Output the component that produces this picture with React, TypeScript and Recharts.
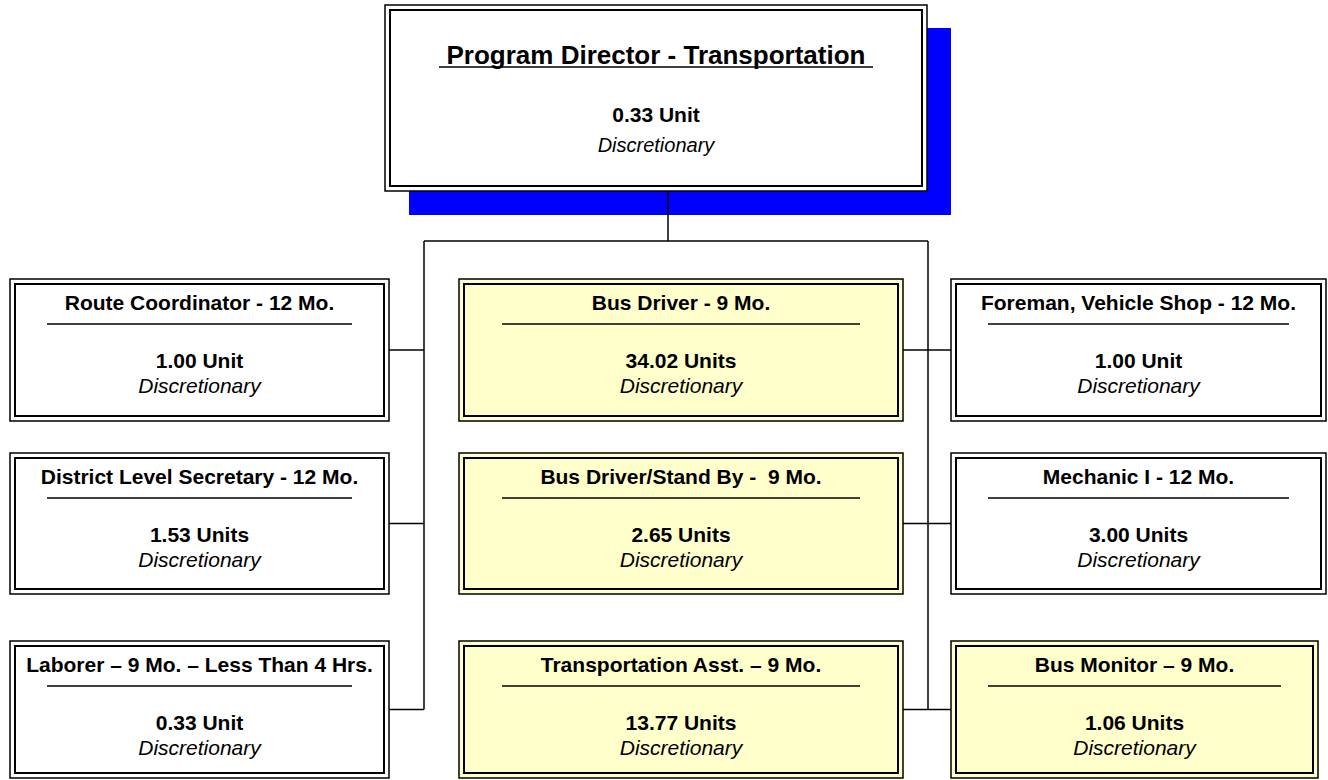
import React from "react";
import {
  ScatterChart,
  Scatter,
  XAxis,
  YAxis,
  ReferenceArea,
  ReferenceLine,
} from "recharts";

// positions in the org chart, top first, then left / middle / right columns
const titles = [
  "Program Director - Transportation",
  "Route Coordinator - 12 Mo.",
  "District Level Secretary - 12 Mo.",
  "Laborer \u2013 9 Mo. \u2013 Less Than 4 Hrs.",
  "Bus Driver - 9 Mo.",
  "Bus Driver/Stand By -  9 Mo.",
  "Transportation Asst. \u2013 9 Mo.",
  "Foreman, Vehicle Shop - 12 Mo.",
  "Mechanic I - 12 Mo.",
  "Bus Monitor \u2013 9 Mo.",
];
const unitCounts = [0.33, 1.0, 1.53, 0.33, 34.02, 2.65, 13.77, 1.0, 3.0, 1.06];
const fundingTypes = [
  "Discretionary",
  "Discretionary",
  "Discretionary",
  "Discretionary",
  "Discretionary",
  "Discretionary",
  "Discretionary",
  "Discretionary",
  "Discretionary",
  "Discretionary",
];
const nodeColumns = ["top", "left", "left", "left", "mid", "mid", "mid", "right", "right", "right"];
const nodeRows = [0, 1, 2, 3, 1, 2, 3, 1, 2, 3];
const nineMonthShaded = [false, false, false, false, true, true, true, false, false, true];

const W = 1328;
const H = 780;
const FONT = "'Liberation Sans', Arial, Helvetica, sans-serif";

// layout (pixel units, the axes map 1:1)
const COLS: Record<string, number[]> = {
  top: [385, 927],
  left: [10, 389],
  mid: [459, 903],
  right: [951, 1326],
};
const ROWS = [
  [5, 191],
  [279, 421],
  [453, 594],
  [641, 778],
];
const RIGHT_EDGE_OVERRIDE: Record<number, number> = { 9: 1318 };
const UNDERLINE_INSET: Record<string, number> = { top: 54, left: 37, mid: 43, right: 37 };
const SHADOW = 24;
const INSET = 5;
const BUS_LEFT = 424;
const BUS_RIGHT = 928;
const BUS_Y = 241;
const TRUNK_X = 668;

const unitLabel = (v: number) => `${v.toFixed(2)} ${v <= 1 ? "Unit" : "Units"}`;

const nodes = titles.map((title, i) => {
  const col = nodeColumns[i];
  const x1 = COLS[col][0];
  const x2 = RIGHT_EDGE_OVERRIDE[i] ?? COLS[col][1];
  const [y1, y2] = ROWS[nodeRows[i]];
  return {
    title,
    units: unitLabel(unitCounts[i]),
    funding: fundingTypes[i],
    col,
    x1,
    x2,
    y1,
    y2,
    x: (x1 + x2) / 2,
    y: y1,
    fill: nineMonthShaded[i] ? "#FFFFCC" : "#FFFFFF",
  };
});

const top = nodes[0];

// connector segments
const connectors: { x: number; y: number }[][] = [
  [
    { x: TRUNK_X, y: top.y2 },
    { x: TRUNK_X, y: BUS_Y },
  ],
  [
    { x: BUS_LEFT, y: BUS_Y },
    { x: BUS_RIGHT, y: BUS_Y },
  ],
];
const leftLast = nodes.filter((n) => n.col === "left").slice(-1)[0];
const rightLast = nodes.filter((n) => n.col === "right").slice(-1)[0];
connectors.push([
  { x: BUS_LEFT, y: BUS_Y },
  { x: BUS_LEFT, y: (leftLast.y1 + leftLast.y2) / 2 },
]);
connectors.push([
  { x: BUS_RIGHT, y: BUS_Y },
  { x: BUS_RIGHT, y: (rightLast.y1 + rightLast.y2) / 2 },
]);
nodes.forEach((n) => {
  const cy = (n.y1 + n.y2) / 2;
  if (n.col === "left") connectors.push([{ x: n.x2, y: cy }, { x: BUS_LEFT, y: cy }]);
  if (n.col === "mid") connectors.push([{ x: n.x2, y: cy }, { x: BUS_RIGHT, y: cy }]);
  if (n.col === "right") connectors.push([{ x: BUS_RIGHT, y: cy }, { x: n.x1, y: cy }]);
});

const NodeText = (props: any) => {
  const { cx, cy, payload } = props;
  const isTop = payload.col === "top";
  const o = isTop
    ? { title: 59, units: 117, fund: 147, ts: 26, us: 21, fs: 20 }
    : { title: 31, units: 89, fund: 114, ts: 21, us: 21, fs: 21 };
  return (
    <g fontFamily={FONT} fill="#000" textAnchor="middle">
      <text x={cx} y={cy + o.title} fontSize={o.ts} fontWeight="bold" style={{ whiteSpace: "pre" }}>
        {payload.title}
      </text>
      <text x={cx} y={cy + o.units} fontSize={o.us} fontWeight="bold">
        {payload.units}
      </text>
      <text x={cx} y={cy + o.fund} fontSize={o.fs} fontStyle="italic">
        {payload.funding}
      </text>
    </g>
  );
};

export default function App() {
  return (
    <div style={{ position: "absolute", left: 0, top: 0, width: W, height: H, background: "#fff" }}>
      <ScatterChart width={W} height={H} margin={{ top: 0, right: 0, bottom: 0, left: 0 }}>
        <XAxis type="number" dataKey="x" domain={[0, W]} hide allowDataOverflow />
        <YAxis type="number" dataKey="y" domain={[0, H]} reversed hide allowDataOverflow />

        <ReferenceArea
          x1={top.x1 + SHADOW}
          x2={top.x2 + SHADOW}
          y1={top.y1 + SHADOW - 1}
          y2={top.y2 + SHADOW}
          fill="#0000FF"
          fillOpacity={1}
          stroke="none"
          ifOverflow="visible"
        />

        {nodes.map((n, i) => (
          <ReferenceArea
            key={`o${i}`}
            x1={n.x1}
            x2={n.x2}
            y1={n.y1}
            y2={n.y2}
            fill={n.fill}
            fillOpacity={1}
            stroke="#000"
            strokeWidth={1.5}
            ifOverflow="visible"
          />
        ))}
        {nodes.map((n, i) => (
          <ReferenceArea
            key={`i${i}`}
            x1={n.x1 + INSET}
            x2={n.x2 - INSET}
            y1={n.y1 + INSET}
            y2={n.y2 - INSET}
            fill="none"
            stroke="#000"
            strokeWidth={2}
            ifOverflow="visible"
          />
        ))}

        {connectors.map((seg, i) => (
          <ReferenceLine key={`c${i}`} segment={seg} stroke="#000" strokeWidth={1.5} ifOverflow="visible" />
        ))}

        {nodes.map((n, i) => {
          const uy = n.y1 + (n.col === "top" ? 62 : 45);
          const inset = UNDERLINE_INSET[n.col];
          return (
            <ReferenceLine
              key={`u${i}`}
              segment={[
                { x: n.x1 + inset, y: uy },
                { x: n.x2 - inset, y: uy },
              ]}
              stroke="#000"
              strokeWidth={1.5}
              ifOverflow="visible"
            />
          );
        })}

        <Scatter data={nodes} shape={NodeText} isAnimationActive={false} />
      </ScatterChart>
    </div>
  );
}
